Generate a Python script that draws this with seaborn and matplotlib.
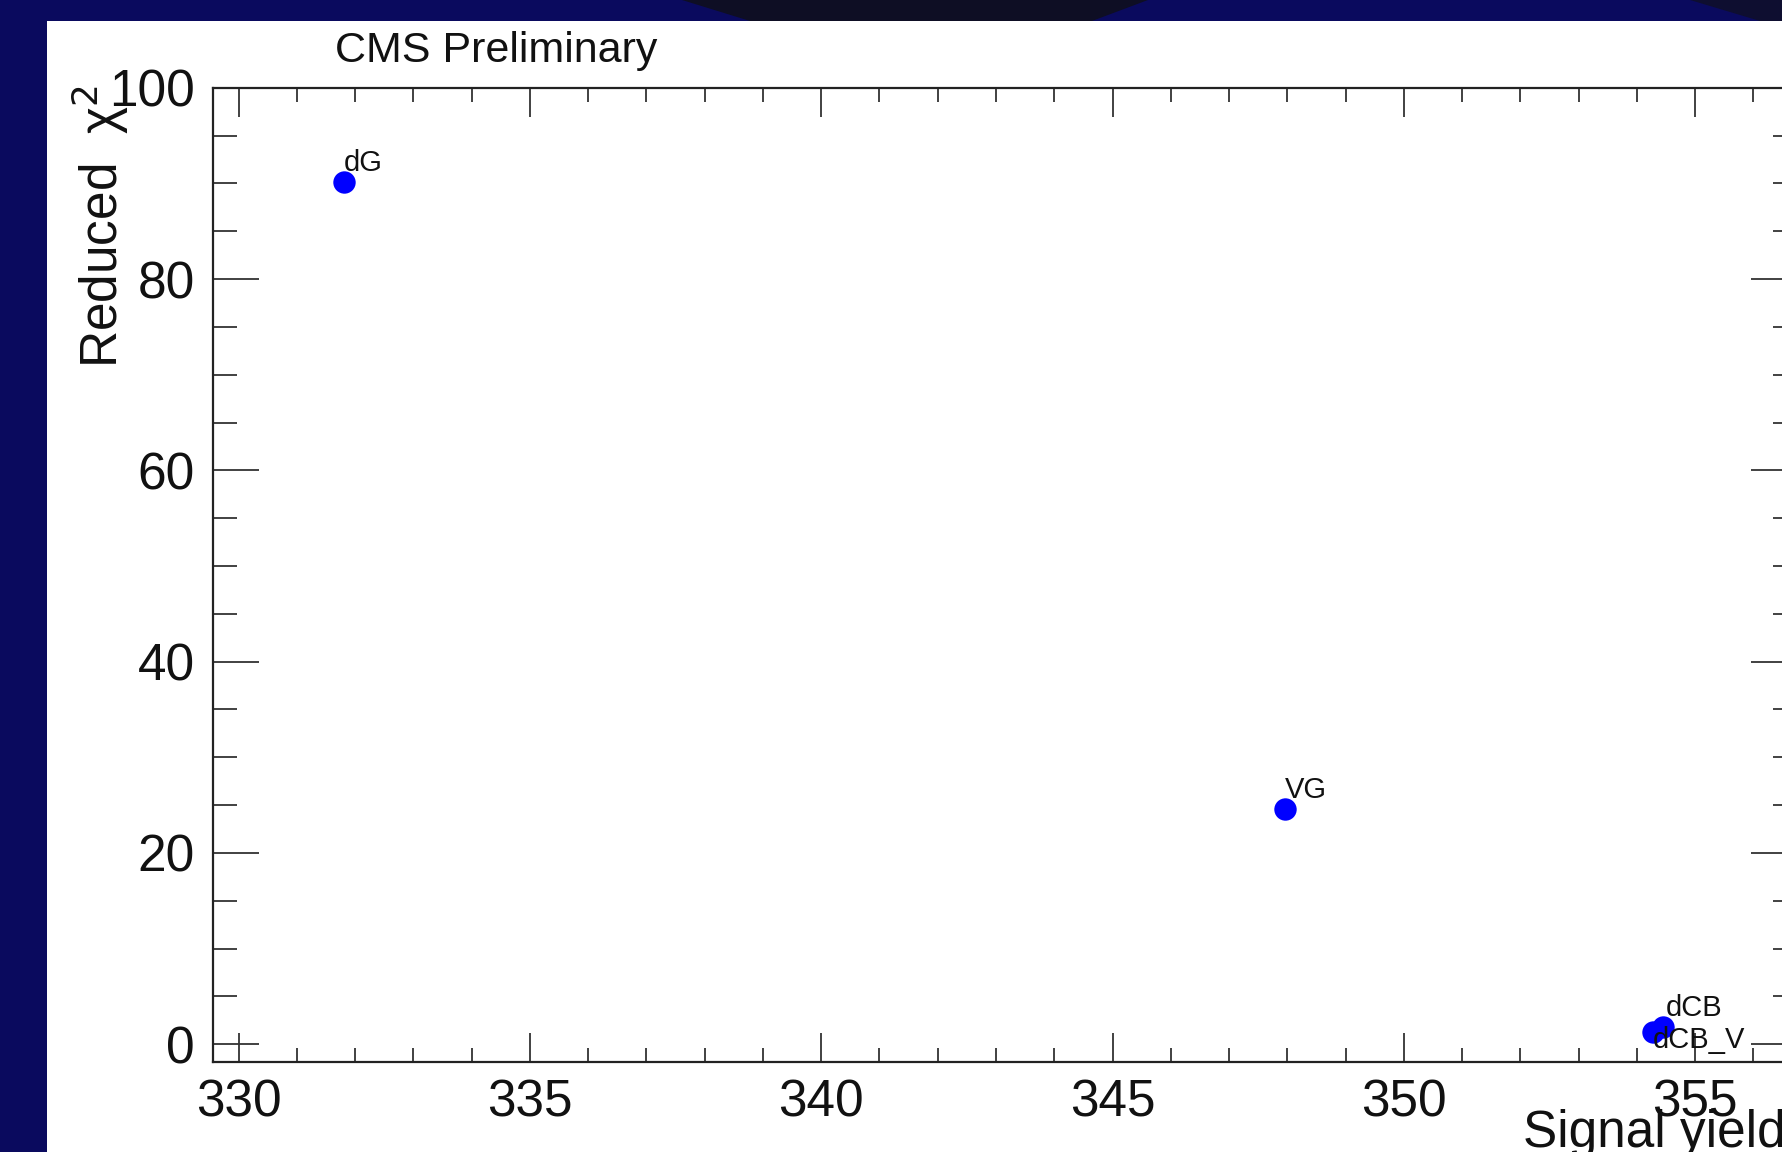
import matplotlib
matplotlib.use("Agg")
import matplotlib.pyplot as plt
from matplotlib.patches import Polygon, Rectangle
from matplotlib.ticker import MultipleLocator
import pandas as pd
import seaborn as sns

# Fit models compared by signal yield and goodness of fit
models = ["dG", "VG", "dCB", "dCB_V"]
signal_yield = [331.81, 347.96, 354.45, 354.28]
reduced_chi2 = [90.1, 24.6, 1.8, 1.3]

x_ticks = [330, 335, 340, 345, 350, 355]
y_ticks = [0, 20, 40, 60, 80, 100]

df = pd.DataFrame({"model": models, "yield": signal_yield, "chi2": reduced_chi2})

sns.set_theme(style="ticks")
plt.rcParams["font.family"] = ["Liberation Sans", "DejaVu Sans"]
plt.rcParams["mathtext.fontset"] = "dejavusans"

W, H = 1783, 1152
fig = plt.figure(figsize=(W / 100, H / 100), dpi=100)
fig.patch.set_facecolor("#0a0a5e")

def fx(px):
    return px / W

def fy(py):
    return 1 - py / H

# slide backdrop: dark wedges along the top band, white canvas below
fig.add_artist(Polygon([(fx(682), fy(0)), (fx(1148), fy(0)), (fx(1092), fy(21)), (fx(750), fy(21))],
                       closed=True, transform=fig.transFigure, facecolor="#0e0e24",
                       edgecolor="none", zorder=-3))
fig.add_artist(Polygon([(fx(1690), fy(0)), (fx(W), fy(0)), (fx(W), fy(21)), (fx(1760), fy(21))],
                       closed=True, transform=fig.transFigure, facecolor="#0e0e30",
                       edgecolor="none", zorder=-3))
fig.add_artist(Rectangle((fx(47), 0), 1 - fx(47), fy(21), transform=fig.transFigure,
                         facecolor="white", edgecolor="none", zorder=-2))

left, right, top, bottom = 212.7, 1797.0, 87.7, 1062.0
ax = fig.add_axes([fx(left), fy(bottom), fx(right - left), (bottom - top) / H])
ax.set_facecolor("white")

sns.scatterplot(data=df, x="yield", y="chi2", ax=ax, color="#0000ff", s=260,
                linewidth=0, legend=False, zorder=3)

label_offsets = {"dG": (0, 8), "VG": (0, 8), "dCB": (2, 8), "dCB_V": (0, -11.5)}
for m, xv, yv in zip(models, signal_yield, reduced_chi2):
    ax.annotate(m, (xv, yv), xytext=label_offsets[m], textcoords="offset points",
                ha="left", va="baseline", fontsize=21, color="#111111", zorder=4)

ax.set_xlim(329.554, 356.75)
ax.set_ylim(-1.85, 100)
ax.set_xticks(x_ticks)
ax.set_yticks(y_ticks)
ax.xaxis.set_minor_locator(MultipleLocator(1))
ax.yaxis.set_minor_locator(MultipleLocator(5))
ax.set_xlabel("")
ax.set_ylabel("")

for s in ax.spines.values():
    s.set_visible(True)
    s.set_linewidth(1.6)
    s.set_color("#222222")

ax.tick_params(axis="both", which="both", direction="in", top=True, right=True,
               color="#333333", width=1.3, labelcolor="#111111", labelsize=37)
ax.tick_params(axis="x", which="major", length=21, pad=12)
ax.tick_params(axis="x", which="minor", length=10)
ax.tick_params(axis="y", which="major", length=33, pad=13)
ax.tick_params(axis="y", which="minor", length=17)

fig.text(fx(335), fy(62), "CMS Preliminary", fontsize=31, color="#111111",
         ha="left", va="baseline")
fig.text(fx(100), fy(85), "Reduced  χ$^{2}$", fontsize=37, color="#111111",
         rotation=90, ha="center", va="top")
fig.text(fx(1523), fy(1147), "Signal yield", fontsize=37, color="#111111",
         ha="left", va="baseline")

fig.savefig("out.png", dpi=100, facecolor=fig.get_facecolor())
